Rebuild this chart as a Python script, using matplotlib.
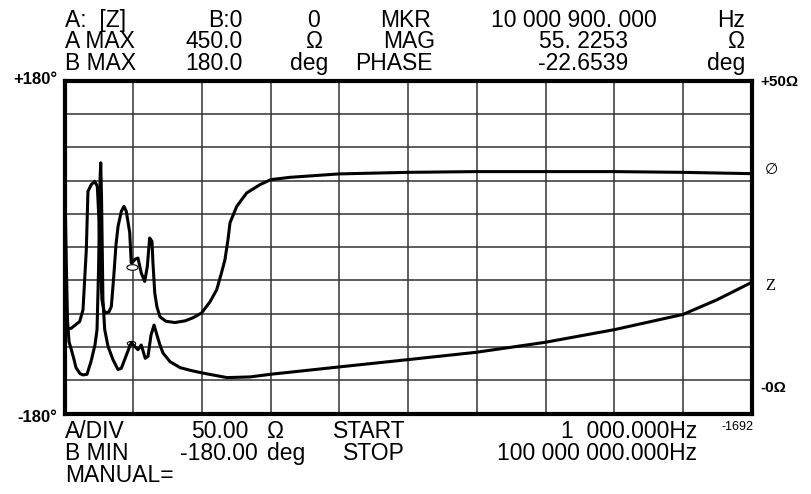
import matplotlib.pyplot as plt
import numpy as np
from matplotlib.path import Path

# trace A: phase (deg) vs log10(frequency / Hz)
phase_logf = [3.000, 3.049, 3.110, 3.134, 3.158, 3.170, 3.194, 3.219, 3.238, 3.250,
              3.261, 3.272, 3.287, 3.301, 3.323, 3.340, 3.356, 3.374, 3.389, 3.413,
              3.432, 3.449, 3.474, 3.485, 3.498, 3.515, 3.534, 3.558, 3.583, 3.602,
              3.619, 3.636, 3.643, 3.656, 3.672, 3.694, 3.738, 3.803, 3.876, 3.934,
              3.998, 4.058, 4.107, 4.138, 4.167, 4.189, 4.204, 4.253, 4.325, 4.422,
              4.500, 4.640, 4.997, 5.499, 5.994, 6.496, 6.999, 7.501, 7.989]
phase_deg = [-89.4, -87.6, -80.4, -67.7, -2.7, 60.5, 67.8, 71.4, 66.0, 29.9,
             -24.4, -56.9, -68.8, -71.0, -69.9, -64.2, -35.2, 2.7, 22.6, 38.9,
             44.3, 38.9, 15.8, -16.8, -15.7, -12.8, -11.7, -27.9, -37.0, -20.8,
             10.0, 6.3, -16.8, -49.3, -64.5, -75.3, -80.2, -81.5, -79.7, -76.4,
             -71.0, -59.1, -46.0, -29.8, -13.5, 8.2, 26.6, 44.3, 58.8, 67.8,
             73.2, 75.7, 79.4, 81.1, 81.9, 81.9, 81.9, 81.1, 79.7]

# trace B: impedance magnitude (ohm)
z_logf = [3.005, 3.012, 3.021, 3.032, 3.049, 3.065, 3.083, 3.112, 3.134, 3.163,
          3.192, 3.221, 3.236, 3.247, 3.258, 3.263, 3.269, 3.279, 3.292, 3.316,
          3.352, 3.389, 3.413, 3.437, 3.474, 3.485, 3.510, 3.534, 3.558, 3.587,
          3.607, 3.629, 3.651, 3.672, 3.694, 3.716, 3.767, 3.840, 3.913, 4.000,
          4.182, 4.350, 4.500, 4.997, 5.499, 5.994, 6.496, 6.999, 7.501, 7.748, 7.989]
z_ohm = [31.4, 23.1, 14.1, 10.8, 9.6, 8.4, 6.9, 6.0, 5.8, 5.9,
         7.8, 10.3, 12.6, 21.6, 35.2, 37.7, 32.2, 17.1, 12.6, 10.1,
         8.1, 6.6, 6.8, 8.1, 10.1, 10.6, 10.1, 9.6, 10.3, 8.3,
         8.6, 11.8, 13.3, 11.8, 10.3, 9.1, 7.8, 6.9, 6.5, 6.1,
         5.4, 5.5, 5.9, 7.0, 8.1, 9.2, 10.7, 12.6, 14.9, 17.1, 19.6]

# marker positions
mkr_logf = 3.491
mkr_deg = -21.1
mkr_z_logf = 3.480
mkr_z = 10.6

W, H = 811, 494
fig = plt.figure(figsize=(W / 100, H / 100), dpi=100)
plt.rcParams['font.family'] = ['Liberation Sans', 'DejaVu Sans']

left, right, top, bottom = 64.6, 751.6, 81.0, 413.5
ax = fig.add_axes([left / W, 1 - bottom / H, (right - left) / W, (bottom - top) / H])
ax.set_xscale('log')
ax.set_xlim(1e3, 1e8)
ax.set_ylim(-180, 180)
ax.set_xticks(10 ** (3 + 0.5 * np.arange(11)))
ax.set_yticks(-180 + 36 * np.arange(11))
ax.minorticks_off()
ax.tick_params(length=0, labelbottom=False, labelleft=False)
ax.grid(True, color='#333333', lw=1.1)
for s in ax.spines.values():
    s.set_linewidth(3)
    s.set_color('black')

ax2 = ax.twinx()
ax2.set_ylim(0, 50)
ax2.set_yticks([])
ax2.tick_params(length=0, labelright=False)
for s in ax2.spines.values():
    s.set_visible(False)

ax.plot(10 ** np.array(phase_logf), phase_deg, color='black', lw=2.2, solid_joinstyle='round')
ax2.plot(10 ** np.array(z_logf), z_ohm, color='black', lw=2.2, solid_joinstyle='round')

t = np.linspace(0, 2 * np.pi, 40)
ell = Path(np.column_stack([np.cos(t), 0.5 * np.sin(t)]))
ax.plot([10 ** mkr_logf], [mkr_deg], marker=ell, ms=8, mfc='white', mec='black', mew=0.8)
ax2.plot([10 ** mkr_z_logf], [mkr_z], marker=ell, ms=6, mfc='none', mec='black', mew=0.8)


def txt(x, y, s, ha='left', va='baseline', **kw):
    fig.text(x / W, 1 - y / H, s, ha=ha, va=va, **kw)


fs = 16.5
# header
txt(65, 27, 'A:  [Z]', fontsize=fs)
txt(243, 27, 'B:0', ha='right', fontsize=fs)
txt(314, 27, '0', ha='center', fontsize=fs)
txt(431, 27, 'MKR', ha='right', fontsize=fs)
txt(657, 27, '10 000 900. 000', ha='right', fontsize=fs)
txt(745, 27, 'Hz', ha='right', fontsize=fs)

txt(65, 48, 'A MAX', fontsize=fs)
txt(243, 48, '450.0', ha='right', fontsize=fs)
txt(315, 48, 'Ω', ha='center', fontsize=fs)
txt(435, 48, 'MAG', ha='right', fontsize=fs)
txt(628, 48, '55. 2253', ha='right', fontsize=fs)
txt(745, 48, 'Ω', ha='right', fontsize=fs)

txt(65, 70, 'B MAX', fontsize=fs)
txt(243, 70, '180.0', ha='right', fontsize=fs)
txt(290, 70, 'deg', fontsize=fs)
txt(433, 70, 'PHASE', ha='right', fontsize=fs)
txt(628, 70, '-22.6539', ha='right', fontsize=fs)
txt(745, 70, 'deg', ha='right', fontsize=fs)

# footer
txt(65, 438, 'A/DIV', fontsize=fs)
txt(248, 438, '50.00', ha='right', fontsize=fs)
txt(267, 438, 'Ω', fontsize=fs)
txt(333, 438, 'START', fontsize=fs)
txt(697, 438, '1  000.000Hz', ha='right', fontsize=fs)
txt(65, 460, 'B MIN', fontsize=fs)
txt(258, 460, '-180.00', ha='right', fontsize=fs)
txt(267, 460, 'deg', fontsize=fs)
txt(343, 460, 'STOP', fontsize=fs)
txt(697, 460, '100 000 000.000Hz', ha='right', fontsize=fs)
txt(65, 482, 'MANUAL=', fontsize=fs)

# side scale labels
txt(57, 80, '+180°', ha='right', va='center', fontsize=12, fontweight='bold')
txt(57, 417, '-180°', ha='right', va='center', fontsize=12, fontweight='bold')
txt(760, 82, '+50Ω', va='center', fontsize=11, fontweight='bold')
txt(760, 388, '-0Ω', va='center', fontsize=11, fontweight='bold')
txt(771, 171, '∅', ha='center', va='center', fontsize=11,
    family=['Liberation Serif', 'DejaVu Sans'])
txt(770, 286, 'Z', ha='center', va='center', fontsize=12, family=['Liberation Serif'])
txt(738, 427, '-1692', ha='center', va='center', fontsize=9)

fig.savefig('out.png', dpi=100)
